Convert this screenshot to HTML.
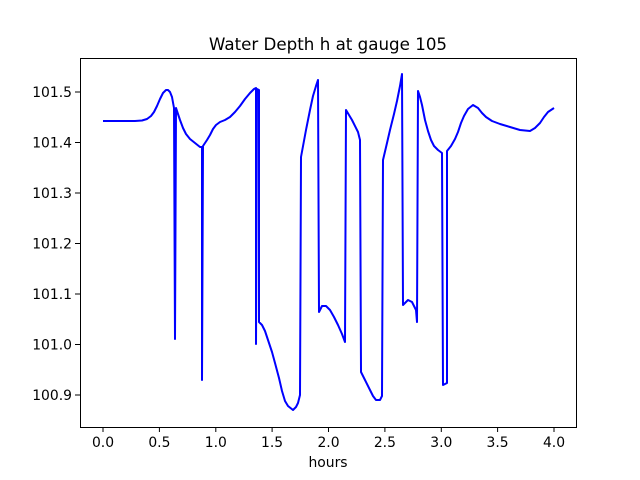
<!DOCTYPE html>
<html><head><meta charset="utf-8"><style>
body{margin:0;background:#fff}
svg{display:block;font-family:"DejaVu Sans","Liberation Sans",sans-serif}
</style></head><body>
<svg width="640" height="480" xmlns="http://www.w3.org/2000/svg">
<rect width="640" height="480" fill="#fff"/>
<text x="328" y="50" font-size="16.7" text-anchor="middle">Water Depth h at gauge 105</text>
<polyline fill="none" stroke="#0000ff" stroke-width="2" stroke-linejoin="round" points="103,121 135,121 142,120.5 147,119 151,116 154,112 157,106 160,99 163,93 166,90 168,90 170,92 172,97 174,108 175,339 176,108 178,114 180,120 183,128 186,134 190,139 195,143 200,147 202,147 202,380 203,146 207,140 210,135 213,129 216,125 220,122 225,120 230,117 235,112 240,106 245,99 250,93 254,89 256,88 256,344 257,89 259,90 259,322 262,325 265,331 268,340 272,352 275,363 279,378 282,391 285,401 288,406 293,410 296,407 298,403 300,395 301,157 306,130 310,110 313,96 316,86 318,80 319,312 322,306 326,306 330,310 334,317 338,325 342,334 345,342 346,110 352,120 358,132 360,140 361,372 365,380 370,390 373,396 376,400 380,400 382,396 383,160 387,143 390,130 394,114 397,101 400,86 402,74 403,305 408,300 412,302 416,310 417,322 418,91 420,97 422,105 425,120 428,131 431,140 434,146 438,150 442,153 443,385 447,383 447,151 451,146 455,139 458,132 461,123 464,116 468,109 473,105 478,108 482,113 486,117 492,121 500,124 510,127 520,130 530,131 535,128 540,123 544,117 548,112 551,110 554,108"/>
<rect x="80.5" y="58.5" width="496" height="369" fill="none" stroke="#000" stroke-width="1"/>
<g stroke="#000" stroke-width="1">
<line x1="103" y1="427" x2="103" y2="432"/><line x1="159.4" y1="427" x2="159.4" y2="432"/><line x1="215.8" y1="427" x2="215.8" y2="432"/><line x1="272.1" y1="427" x2="272.1" y2="432"/><line x1="328.5" y1="427" x2="328.5" y2="432"/><line x1="384.9" y1="427" x2="384.9" y2="432"/><line x1="441.3" y1="427" x2="441.3" y2="432"/><line x1="497.6" y1="427" x2="497.6" y2="432"/><line x1="554" y1="427" x2="554" y2="432"/>
<line x1="75" y1="92" x2="80" y2="92"/><line x1="75" y1="142.5" x2="80" y2="142.5"/><line x1="75" y1="193" x2="80" y2="193"/><line x1="75" y1="243.5" x2="80" y2="243.5"/><line x1="75" y1="294" x2="80" y2="294"/><line x1="75" y1="344.5" x2="80" y2="344.5"/><line x1="75" y1="395" x2="80" y2="395"/>
</g>
<g font-size="13.9" text-anchor="middle">
<text x="103" y="447">0.0</text><text x="159.4" y="447">0.5</text><text x="215.8" y="447">1.0</text><text x="272.1" y="447">1.5</text><text x="328.5" y="447">2.0</text><text x="384.9" y="447">2.5</text><text x="441.3" y="447">3.0</text><text x="497.6" y="447">3.5</text><text x="554" y="447">4.0</text>
<text x="328" y="467">hours</text>
</g>
<g font-size="13.9" text-anchor="end">
<text x="72" y="97">101.5</text><text x="72" y="147.5">101.4</text><text x="72" y="198">101.3</text><text x="72" y="248.5">101.2</text><text x="72" y="299">101.1</text><text x="72" y="349.5">101.0</text><text x="72" y="400">100.9</text>
</g>
</svg>
</body></html>
